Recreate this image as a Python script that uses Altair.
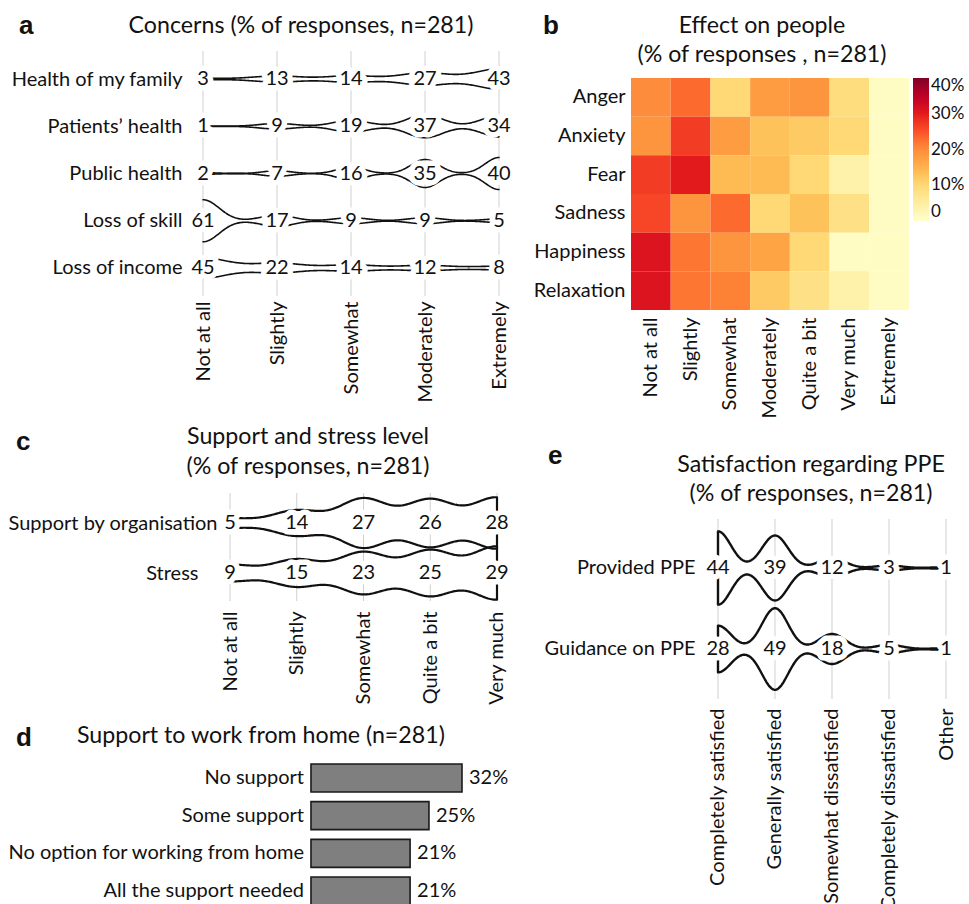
import json

import altair as alt
import numpy as np
import pandas as pd

FONT = "Lato"
INK = "#111111"
GRID = "#d0d0d0"

ROWLAB = 20     # row labels
VALLAB = 20     # numbers printed on the violins
XLAB = 20       # rotated category labels
TITLE = 23.2
LETTER = 26

# ColorBrewer YlOrRd, one stop every 5 %
YLORRD = ["#ffffcc", "#ffeda0", "#fed976", "#feb24c", "#fd8d3c",
          "#fc4e2a", "#e31a1c", "#bd0026", "#800026"]

# ---------------- data ----------------
concern_items = ["Health of my family", "Patients’ health", "Public health",
                 "Loss of skill", "Loss of income"]
concern_levels = ["Not at all", "Slightly", "Somewhat", "Moderately", "Extremely"]
concern_pct = [
    [3, 13, 14, 27, 43],
    [1, 9, 19, 37, 34],
    [2, 7, 16, 35, 40],
    [61, 17, 9, 9, 5],
    [45, 22, 14, 12, 8],
]
concern_bw = [0.32, 0.24, 0.187, 0.217, 0.337]

emotions = ["Anger", "Anxiety", "Fear", "Sadness", "Happiness", "Relaxation"]
effect_levels = ["Not at all", "Slightly", "Somewhat", "Moderately",
                 "Quite a bit", "Very much", "Extremely"]
effect_pct = [
    [20, 23, 10, 18, 19, 9, 1],
    [19, 27, 18, 13, 12, 10, 1],
    [27, 30, 14, 14, 10, 4, 1],
    [26, 19, 23, 10, 13, 8, 1],
    [31, 22, 19, 17, 10, 1, 1],
    [31, 22, 21, 12, 8, 4, 1],
]

support_items = ["Support by organisation", "Stress"]
support_levels = ["Not at all", "Slightly", "Somewhat", "Quite a bit", "Very much"]
support_pct = [
    [5, 14, 27, 26, 28],
    [9, 15, 23, 25, 29],
]
support_bw = [0.35, 0.35]

wfh_options = ["No support", "Some support", "No option for working from home",
               "All the support needed"]
wfh_pct = [32, 25, 21, 21]

ppe_items = ["Provided PPE", "Guidance on PPE"]
ppe_levels = ["Completely satisfied", "Generally satisfied", "Somewhat dissatisfied",
              "Completely dissatisfied", "Other"]
ppe_pct = [
    [44, 39, 12, 3, 1],
    [28, 49, 18, 5, 1],
]
ppe_bw = [0.23, 0.23]


# ---------------- helpers ----------------
def kde(pct, bw, grid):
    """Gaussian kernel density of an ordinal response distribution."""
    p = np.asarray(pct, float) / 100.0
    k = np.arange(1, len(p) + 1)
    z = (grid[:, None] - k[None, :]) / bw
    return (p * np.exp(-0.5 * z ** 2)).sum(axis=1) / (bw * np.sqrt(2 * np.pi))


def outline_frame(items, pct, bws, spread, closed):
    n = len(pct[0])
    g = np.linspace(1, n, 60 * (n - 1) + 1)
    recs = []
    for r, (item, vals, bw) in enumerate(zip(items, pct, bws), start=1):
        w = kde(vals, bw, g) * spread
        if closed:
            xs = np.concatenate([g, g[::-1], g[:1]])
            ys = np.concatenate([r - w, (r + w)[::-1], [r - w[0]]])
            parts = [("outline", xs, ys)]
        else:
            parts = [("upper", g, r - w), ("lower", g, r + w)]
        for side, xs, ys in parts:
            for o, (x, y) in enumerate(zip(xs, ys)):
                recs.append({"key": f"{item}|{side}", "o": o,
                             "x": float(x), "y": float(y)})
    return pd.DataFrame(recs)


def label_frame(items, pct):
    recs = []
    for r, (item, vals) in enumerate(zip(items, pct), start=1):
        for k, v in enumerate(vals, start=1):
            recs.append({"k": k, "r": r, "t": str(v)})
    return pd.DataFrame(recs)


def note(text, x, y, size=TITLE, align="center", weight="normal", font=FONT):
    return alt.Chart(pd.DataFrame({"t": [text]})).mark_text(
        align=align, baseline="alphabetic", font=font, fontSize=size,
        fontWeight=weight, color=INK,
    ).encode(x=alt.value(x), y=alt.value(y), text="t:N")


def letter(text, x, y):
    return note(text, x, y, size=LETTER, align="left", weight="bold",
                font="Liberation Sans")


def pick(names):
    return f"{json.dumps(names, ensure_ascii=False)}[datum.value - 1]"


def violin_panel(items, levels, pct, bws, spread, closed, width, height,
                 xdom, ydom, grid_span, line_w, ypad, extras):
    n, m = len(levels), len(items)
    xaxis = alt.Axis(values=list(range(1, n + 1)), labelExpr=pick(levels),
                     labelAngle=270, labelAlign="right", labelBaseline="middle",
                     labelPadding=5, labelFont=FONT, labelFontSize=XLAB,
                     labelColor=INK, ticks=False, domain=False, grid=False,
                     labelOverlap=False, labelFlush=False, labelLimit=0,
                     title=None)
    yaxis = alt.Axis(values=list(range(1, m + 1)), labelExpr=pick(items),
                     labelAlign="right", labelBaseline="middle",
                     labelPadding=ypad, labelFont=FONT, labelFontSize=ROWLAB,
                     labelColor=INK, ticks=False, domain=False, grid=False,
                     labelOverlap=False, labelFlush=False, labelLimit=0,
                     title=None)
    xs = alt.Scale(domain=xdom, nice=False, zero=False)
    ys = alt.Scale(domain=ydom, nice=False, zero=False, reverse=True)

    def X(f):
        return alt.X(f, type="quantitative", scale=xs, axis=xaxis, title=None)

    def Y(f):
        return alt.Y(f, type="quantitative", scale=ys, axis=yaxis, title=None)

    grid = alt.Chart(pd.DataFrame({"k": list(range(1, n + 1))})).mark_rule(
        color=GRID, strokeWidth=1
    ).encode(x=X("k"), y=alt.value(grid_span[0]), y2=alt.value(grid_span[1]))

    lines = alt.Chart(outline_frame(items, pct, bws, spread, closed)).mark_line(
        color=INK, strokeWidth=line_w, strokeJoin="round", strokeCap="round"
    ).encode(x=X("x"), y=Y("y"), detail="key:N", order="o:Q")

    labels = label_frame(items, pct)
    halo = alt.Chart(labels).mark_text(
        font=FONT, fontSize=VALLAB, baseline="middle", color="white",
        stroke="white", strokeWidth=11, strokeJoin="round",
    ).encode(x=X("k"), y=Y("r"), text="t:N")
    nums = alt.Chart(labels).mark_text(
        font=FONT, fontSize=VALLAB, baseline="middle", color=INK,
    ).encode(x=X("k"), y=Y("r"), text="t:N")

    return alt.layer(grid, lines, halo, nums, *extras).properties(
        width=width, height=height)


# ---------------- panel a: concerns ----------------
# white corner mark that fixes the top-left of the page
corner = alt.Chart(pd.DataFrame({"t": [0]})).mark_rule(
    color="white", strokeWidth=1
).encode(x=alt.value(-202), x2=alt.value(-201), y=alt.value(-160), y2=alt.value(-159))

panel_a = violin_panel(
    concern_items, concern_levels, concern_pct, concern_bw, spread=0.397,
    closed=False, width=296, height=218, xdom=[1, 5], ydom=[0.9788, 5.5926],
    grid_span=(-27, 218), line_w=1.6, ypad=21,
    extras=[corner, letter("a", -184, -44),
            note("Concerns (% of responses, n=281)", 98, -45)],
)

# ---------------- panel b: heat map ----------------
heat_df = pd.DataFrame([
    {"emotion": e, "level": lv, "pct": v}
    for e, row in zip(emotions, effect_pct)
    for lv, v in zip(effect_levels, row)
])
heat = alt.Chart(heat_df).mark_rect().encode(
    x=alt.X("level:N", sort=effect_levels, title=None,
            scale=alt.Scale(paddingInner=0, paddingOuter=0),
            axis=alt.Axis(labelAngle=270, labelAlign="right", labelBaseline="middle",
                          labelPadding=7, ticks=False, domain=False,
                          labelFont=FONT, labelFontSize=XLAB, labelColor=INK,
                          labelLimit=0, title=None)),
    y=alt.Y("emotion:N", sort=emotions, title=None,
            scale=alt.Scale(paddingInner=0, paddingOuter=0),
            axis=alt.Axis(labelPadding=6, ticks=False, domain=False,
                          labelFont=FONT, labelFontSize=ROWLAB, labelColor=INK,
                          labelLimit=0, title=None)),
    color=alt.Color("pct:Q",
                    scale=alt.Scale(domain=[0, 5, 10, 15, 20, 25, 30, 35, 40],
                                    range=YLORRD, clamp=True),
                    legend=alt.Legend(title=None, orient="right", offset=4,
                                      gradientLength=143, gradientThickness=16,
                                      gradientStrokeWidth=0,
                                      values=[0, 10, 20, 30, 40],
                                      labelExpr="datum.value == 0 ? '0' : datum.value + '%'",
                                      labelFont=FONT, labelFontSize=17,
                                      labelColor=INK, labelOffset=2)),
)
panel_b = alt.layer(
    heat,
    letter("b", -88, -44),
    note("Effect on people", 131, -45),
    note("(% of responses , n=281)", 131, -16),
).properties(width=278, height=232)

# ---------------- panel c: support and stress ----------------
panel_c = violin_panel(
    support_items, support_levels, support_pct, support_bw, spread=1.588,
    closed=True, width=296, height=235, xdom=[0.5955, 5.03], ydom=[-2.04, 2.66],
    grid_span=(122, 230), line_w=2.2,
    ypad={"condition": {"test": "datum.value == 1", "value": -14}, "value": 5},
    extras=[letter("c", -187, 79),
            note("Support and stress level", 105, 73),
            note("(% of responses, n=281)", 105, 103)],
)

# ---------------- panel d: working from home ----------------
wfh_df = pd.DataFrame({"option": wfh_options, "pct": wfh_pct,
                       "t": [f"{v}%" for v in wfh_pct]})
xs_d = alt.Scale(domain=[-22.88, 32], nice=False, zero=False)
ys_d = alt.Scale(paddingInner=0.257, paddingOuter=0)


def Xd(f):
    return alt.X(f, type="quantitative", scale=xs_d, axis=None, title=None)


Yd = alt.Y("option:N", sort=wfh_options, scale=ys_d, axis=None, title=None)

bars = alt.Chart(wfh_df).mark_bar(
    color="#7f7f7f", stroke="#1a1a1a", strokeWidth=1.6
).encode(x=Xd("pct"), y=Yd)
bar_names = alt.Chart(wfh_df).transform_calculate(base="0").mark_text(
    align="right", baseline="middle", dx=-7, font=FONT, fontSize=ROWLAB, color=INK
).encode(x=Xd("base:Q"), y=Yd, text="option:N")
bar_vals = alt.Chart(wfh_df).mark_text(
    align="left", baseline="middle", dx=7, font=FONT, fontSize=ROWLAB, color=INK
).encode(x=Xd("pct"), y=Yd, text="t:N")

panel_d = alt.layer(
    bars, bar_names, bar_vals,
    letter("d", -187, -18),
    note("Support to work from home (n=281)", -126, -21, align="left"),
).properties(width=259, height=141)

# ---------------- panel e: PPE ----------------
panel_e = violin_panel(
    ppe_items, ppe_levels, ppe_pct, ppe_bw, spread=0.593,
    closed=True, width=315, height=332, xdom=[-0.5263, 5], ydom=[-1.4321, 2.6667],
    grid_span=(148, 328), line_w=2.4, ypad=-64,
    extras=[letter("e", -83, 93),
            note("Satisfaction regarding PPE", 180, 101),
            note("(% of responses, n=281)", 180, 130)],
)

chart = alt.concat(
    panel_a, panel_b, panel_c, panel_e, panel_d,
    columns=2, spacing={"row": 61, "column": 132}, bounds="flush",
).resolve_scale(color="independent").properties(
    padding={"left": 0, "top": -83, "right": 0, "bottom": 0}, background="white"
).configure_view(stroke="transparent")

chart.save("out.html", embed_options={"renderer": "svg", "actions": False})
